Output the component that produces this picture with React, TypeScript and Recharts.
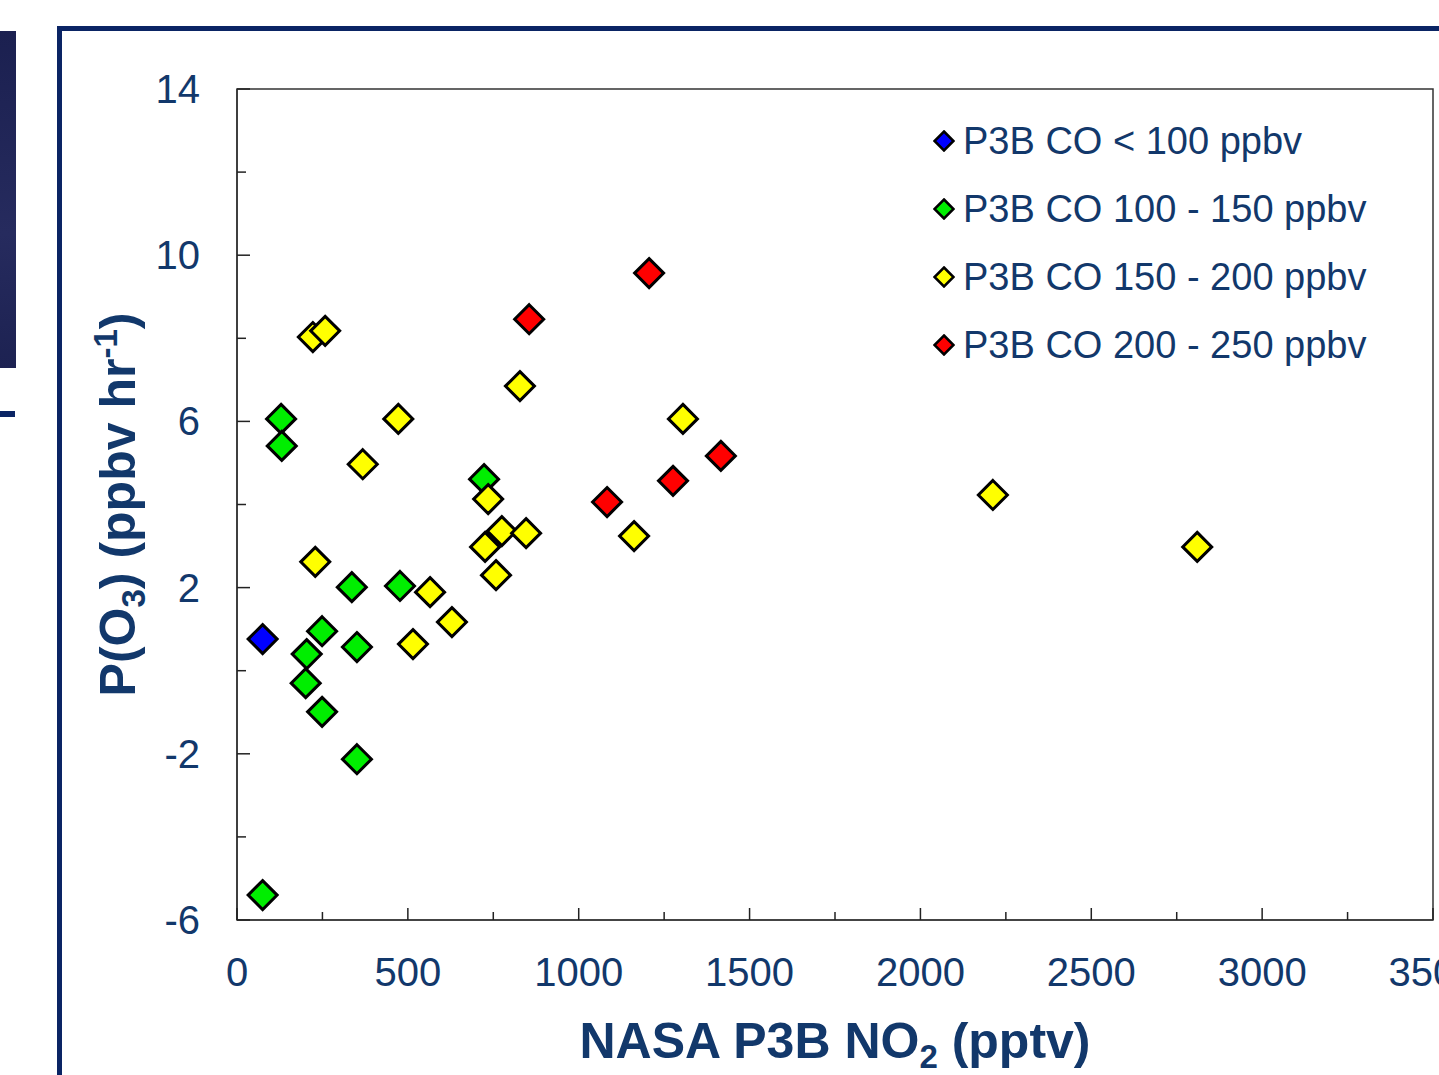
import React from 'react';
import {
  ScatterChart,
  Scatter,
  XAxis,
  YAxis,
  ReferenceArea,
  Legend,
  Label,
} from 'recharts';

// NO2 (pptv) vs P(O3) (ppbv/hr), grouped by CO bins
const lowCo = [{ no2: 75, po3: 0.76 }];

const midCo = [
  { no2: 129, po3: 6.06 },
  { no2: 131, po3: 5.41 },
  { no2: 723, po3: 4.61 },
  { no2: 336, po3: 2.01 },
  { no2: 477, po3: 2.04 },
  { no2: 249, po3: 0.95 },
  { no2: 204, po3: 0.4 },
  { no2: 351, po3: 0.57 },
  { no2: 201, po3: -0.3 },
  { no2: 249, po3: -0.99 },
  { no2: 351, po3: -2.13 },
  { no2: 75, po3: -5.4 },
];

const highCo = [
  { no2: 222, po3: 8.03 },
  { no2: 258, po3: 8.18 },
  { no2: 368, po3: 4.97 },
  { no2: 472, po3: 6.06 },
  { no2: 828, po3: 6.85 },
  { no2: 1305, po3: 6.06 },
  { no2: 735, po3: 4.13 },
  { no2: 1162, po3: 3.24 },
  { no2: 775, po3: 3.36 },
  { no2: 846, po3: 3.31 },
  { no2: 726, po3: 2.98 },
  { no2: 758, po3: 2.3 },
  { no2: 229, po3: 2.62 },
  { no2: 565, po3: 1.89 },
  { no2: 629, po3: 1.17 },
  { no2: 515, po3: 0.64 },
  { no2: 2212, po3: 4.23 },
  { no2: 2810, po3: 2.98 },
];

const veryHighCo = [
  { no2: 855, po3: 8.46 },
  { no2: 1206, po3: 9.57 },
  { no2: 1276, po3: 4.57 },
  { no2: 1083, po3: 4.06 },
  { no2: 1416, po3: 5.17 },
];

const xTicks = [0, 250, 500, 750, 1000, 1250, 1500, 1750, 2000, 2250, 2500, 2750, 3000, 3250, 3500];
const yTicks = [-6, -4, -2, 0, 2, 4, 6, 8, 10, 12, 14];
const xLabelled = [0, 500, 1000, 1500, 2000, 2500, 3000, 3500];
const yLabelled = [-6, -2, 2, 6, 10, 14];

const series = [
  { name: 'P3B CO < 100 ppbv', color: '#0000ff', data: lowCo },
  { name: 'P3B CO 100 - 150 ppbv', color: '#00ee00', data: midCo },
  { name: 'P3B CO 150 - 200 ppbv', color: '#ffff00', data: highCo },
  { name: 'P3B CO 200 - 250 ppbv', color: '#ff0000', data: veryHighCo },
];

const FONT = '"Liberation Sans", Arial, sans-serif';
const NAVY = '#12386b';

const diamond = (r: number, sw: number) => (props: any) => {
  const { cx, cy, fill } = props;
  return (
    <polygon
      points={`${cx},${cy - r} ${cx + r},${cy} ${cx},${cy + r} ${cx - r},${cy}`}
      fill={fill}
      stroke="#000"
      strokeWidth={sw}
    />
  );
};

const XTick = (props: any) => {
  const { x, y, payload } = props;
  const major = xLabelled.includes(payload.value);
  return (
    <g>
      <line x1={x} x2={x} y1={y} y2={y - (major ? 12 : 8)} stroke="#222" strokeWidth={1.5} />
      {major && (
        <text x={x} y={y + 66} textAnchor="middle" fontSize={40} fontFamily={FONT} fill={NAVY}>
          {payload.value}
        </text>
      )}
    </g>
  );
};

const YTick = (props: any) => {
  const { x, y, payload } = props;
  const major = yLabelled.includes(payload.value);
  return (
    <g>
      <line x1={x} x2={x + (major ? 13 : 9)} y1={y} y2={y} stroke="#222" strokeWidth={1.5} />
      {major && (
        <text x={x - 37} y={y + 14} textAnchor="end" fontSize={40} fontFamily={FONT} fill={NAVY}>
          {payload.value}
        </text>
      )}
    </g>
  );
};

const LegendBox = () => (
  <div style={{ fontFamily: FONT, color: NAVY, fontSize: 38 }}>
    {series.map((s) => (
      <div key={s.name} style={{ display: 'flex', alignItems: 'center', height: 68 }}>
        <svg width={22} height={22} style={{ marginRight: 8 }}>
          <polygon points="11,1.5 20.5,11 11,20.5 1.5,11" fill={s.color} stroke="#000" strokeWidth={2.5} />
        </svg>
        <span>{s.name}</span>
      </div>
    ))}
  </div>
);

export default function App() {
  return (
    <div style={{ position: 'absolute', left: 0, top: 0, width: 1439, height: 1075, overflow: 'hidden', background: '#fff' }}>
      {/* slide decorations */}
      <div style={{ position: 'absolute', left: 0, top: 31, width: 16, height: 337, background: 'linear-gradient(180deg, #1b2050, #262b5e 60%, #1d2252)' }} />
      <div style={{ position: 'absolute', left: 0, top: 411, width: 15, height: 6, background: '#0a2464' }} />
      <div style={{ position: 'absolute', left: 57, top: 26, width: 1382, height: 5, background: '#0a2464' }} />
      <div style={{ position: 'absolute', left: 57, top: 26, width: 5, height: 1049, background: '#0a2464' }} />

      <div style={{ position: 'absolute', left: 0, top: 0 }}>
        <ScatterChart width={1439} height={1075} margin={{ top: 89, right: 6, bottom: 0, left: 0 }}>
          <XAxis
            type="number"
            dataKey="no2"
            domain={[0, 3500]}
            ticks={xTicks}
            interval={0}
            height={155}
            tickSize={0}
            tickMargin={0}
            tickLine={false}
            axisLine={{ stroke: '#444', strokeWidth: 2 }}
            tick={<XTick />}
          >
            <Label
              content={(p: any) => {
                const vb = p.viewBox;
                return (
                  <text
                    x={vb.x + vb.width / 2}
                    y={vb.y + 138}
                    textAnchor="middle"
                    fontSize={50}
                    fontWeight="bold"
                    fontFamily={FONT}
                    fill={NAVY}
                  >
                    NASA P3B NO<tspan dy={10} fontSize={33}>2</tspan>
                    <tspan dy={-10}> (pptv)</tspan>
                  </text>
                );
              }}
            />
          </XAxis>
          <YAxis
            type="number"
            dataKey="po3"
            domain={[-6, 14]}
            ticks={yTicks}
            interval={0}
            width={237}
            tickSize={0}
            tickMargin={0}
            tickLine={false}
            axisLine={{ stroke: '#333', strokeWidth: 1.5 }}
            tick={<YTick />}
          >
            <Label
              content={(p: any) => {
                const vb = p.viewBox;
                const cx = vb.x + 135;
                const cy = vb.y + vb.height / 2;
                return (
                  <text
                    transform={`translate(${cx}, ${cy}) rotate(-90)`}
                    textAnchor="middle"
                    fontSize={50}
                    fontWeight="bold"
                    fontFamily={FONT}
                    fill={NAVY}
                  >
                    P(O<tspan dy={10} fontSize={33}>3</tspan>
                    <tspan dy={-10}>) (ppbv hr</tspan>
                    <tspan dy={-18} fontSize={33}>-1</tspan>
                    <tspan dy={18}>)</tspan>
                  </text>
                );
              }}
            />
          </YAxis>
          <ReferenceArea x1={0} x2={3500} y1={-6} y2={14} fill="none" stroke="#333" strokeWidth={1.5} />
          <Legend
            layout="horizontal"
            verticalAlign="middle"
            align="center"
            content={<LegendBox />}
            wrapperStyle={{ position: 'absolute', left: 933, top: 107, width: 'auto' }}
          />
          {series.map((s) => (
            <Scatter
              key={s.name}
              name={s.name}
              data={s.data}
              fill={s.color}
              shape={diamond(14.5, 3)}
              isAnimationActive={false}
            />
          ))}
        </ScatterChart>
      </div>
    </div>
  );
}
